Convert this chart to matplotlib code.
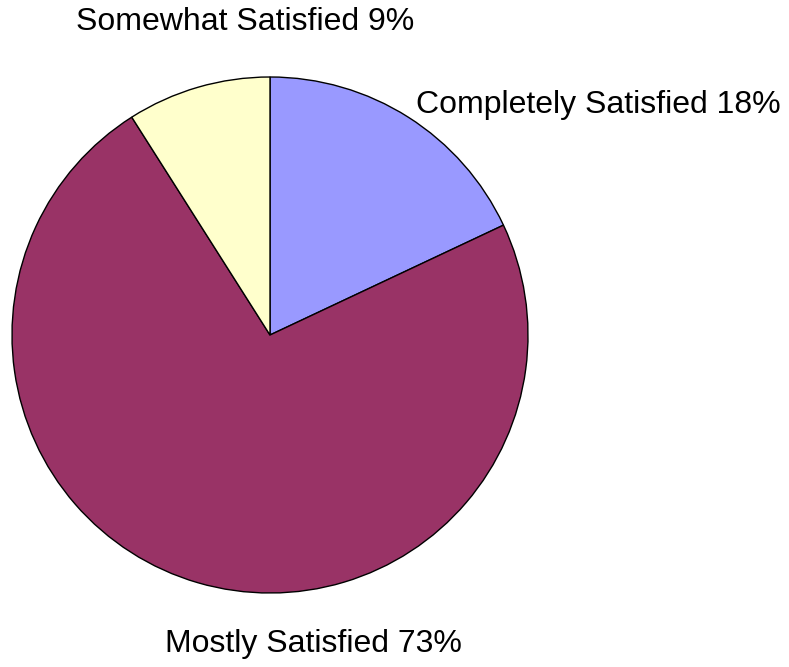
import matplotlib.pyplot as plt

plt.rcParams['font.family'] = ['Liberation Sans', 'DejaVu Sans']

# data
labels = ['Completely Satisfied', 'Mostly Satisfied', 'Somewhat Satisfied']
shares = [18, 73, 9]
colors = ['#9999FF', '#993366', '#FFFFCC']

fig = plt.figure(figsize=(7.89, 6.67), dpi=100)
ax = fig.add_axes([0, 0, 1, 1])

wedges, _ = ax.pie(shares, colors=colors, startangle=90, counterclock=False,
                   center=(270, 332), radius=258, frame=True,
                   wedgeprops=dict(edgecolor='black', linewidth=1))
ax.set_xlim(0, 789)
ax.set_ylim(0, 667)
ax.set_aspect('equal')
ax.axis('off')

# label positions (pixel layout, y from bottom)
label_pos = [(598, 562), (313, 23), (245, 645)]
for lab, val, (x, y) in zip(labels, shares, label_pos):
    ax.text(x, y, f'{lab} {val}%', ha='center', va='center', fontsize=23)

fig.savefig('out.png', dpi=100)
